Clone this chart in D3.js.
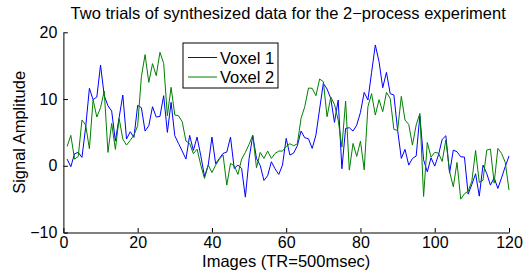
<!DOCTYPE html>
<html>
<head>
<meta charset="utf-8">
<script src="https://cdn.jsdelivr.net/npm/d3@7"></script>
<style>
  body { margin: 0; background: #fff; }
  svg text { font-family: "Liberation Sans", Arial, sans-serif; fill: #000; }
</style>
</head>
<body>
<svg id="chart" width="524" height="276"></svg>
<script>
// ---- data ----
var voxel1 = [1.0, -0.15, 1.8, 2.0, 1.25, 5.8, 11.6, 9.9, 10.3, 15.1,
  10.5, 9.0, 8.2, 3.7, 7.2, 10.6, 4.0, 5.1, 4.25, 9.05,
  8.7, 5.2, 6.0, 8.85, 7.3, 7.4, 10.5, 5.0, 9.5, 4.5,
  3.35, 2.2, 1.0, 4.55, 2.3, 4.3, 1.5, -1.6, 0.1, 4.3,
  0.3, 1.1, 1.85, 2.05, 4.3, -0.4, 0.1, -0.4, -4.7, 1.05,
  4.5, 1.1, 0.05, -2.2, -1.5, 0.6, -0.45, -1.3, 0.1, 4.1,
  1.6, 1.9, 3.0, 5.2, 4.2, 4.05, 2.6, 4.6, 8.5, 12.35,
  11.5, 10.1, 6.5, 9.85, -0.45, 5.6, 5.7, 5.2, 6.1, 8.0,
  11.0, 9.85, 14.0, 18.1, 15.6, 11.7, 14.0, 10.8, 10.6, 5.35,
  1.1, 2.45, 0.1, 1.1, 1.45, 7.5, 0.9, -0.9, 1.2, -0.05,
  1.6, 3.95, 4.5, -1.1, 2.35, 2.1, 1.35, 1.3, -4.25, -2.8,
  -1.2, -4.55, 0.1, -1.15, -2.9, -1.8, -3.4, -1.8, -0.1, 1.45];

var voxel2 = [2.9, 4.55, 1.0, 1.4, 6.85, 6.1, 2.55, 9.9, 7.3, 8.7,
  11.2, 2.0, 6.35, 2.45, 7.1, 4.0, 3.1, 3.8, 4.6, 6.0,
  13.35, 16.65, 12.5, 15.3, 13.5, 17.0, 15.35, 7.5, 11.75, 7.6,
  7.5, 6.6, 3.7, 3.35, 1.8, 2.5, 0.1, -1.9, 0.1, -1.0,
  0.1, 1.0, 1.6, -2.9, 0.35, 0.0, -1.3, 1.0, 2.0, 3.2,
  4.6, -0.3, 2.0, 1.1, 2.2, 1.1, 1.85, 2.2, 2.2, 2.9,
  3.3, 3.0, 3.3, 7.1, 8.85, 11.65, 11.6, 10.5, 13.0, 12.6,
  7.35, 10.3, 9.2, 6.85, 2.8, 9.7, -0.65, 3.35, 1.4, 3.7,
  -0.6, 8.85, 10.8, 7.6, 9.9, 8.1, 11.0, 10.1, 5.45, 5.3,
  10.4, 6.85, 6.2, 3.1, 6.1, 7.85, -4.6, 3.5, 1.3, 2.0,
  1.9, 0.65, 3.85, -0.9, -3.15, 0.5, -5.0, -4.2, -3.8, -2.3,
  2.3, -2.5, -2.15, 2.35, 2.5, -2.6, 2.6, 1.85, 0.5, -3.65];

var images = d3.range(1, voxel1.length + 1);   // image index 1..120
var seriesNames = ["Voxel 1", "Voxel 2"];
var seriesColors = ["#0000ff", "#008000"];
var xTicks = [0, 20, 40, 60, 80, 100, 120];
var yTicks = [-10, 0, 10, 20];

var titleText = "Two trials of synthesized data for the 2\u2212process experiment";
var xLabel = "Images (TR=500msec)";
var yLabel = "Signal Amplitude";

(function () {
  // ---- layout ----
  var svg = d3.select("#chart"),
      pLeft = 63.4, pRight = 509, pTop = 32.3, pBottom = 232.5;

  var x = d3.scaleLinear().domain([0, 120]).range([pLeft, pRight]);
  var y = d3.scaleLinear().domain([-10, 20]).range([pBottom, pTop]);

  // axes (MATLAB style: ticks inside, box off)
  var xAxis = svg.append("g")
      .attr("transform", "translate(0," + pBottom + ")")
      .call(d3.axisBottom(x).tickValues(xTicks).tickSizeInner(-4.5).tickSizeOuter(0).tickPadding(4));
  var yAxis = svg.append("g")
      .attr("transform", "translate(" + pLeft + ",0)")
      .call(d3.axisLeft(y).tickValues(yTicks).tickSizeInner(-4.5).tickSizeOuter(0).tickPadding(6)
        .tickFormat(function(d) { return d < 0 ? "\u2212" + Math.abs(d) : d; }));

  [xAxis, yAxis].forEach(function(g) {
    g.select(".domain").attr("stroke", "#000").attr("stroke-width", 1);
    g.selectAll(".tick line").attr("stroke", "#000");
    g.selectAll(".tick text").style("font-size", "16px").attr("fill", "#000");
  });

  // the lines
  var line = d3.line()
      .x(function(d, i) { return x(images[i]); })
      .y(function(d) { return y(d); });

  svg.selectAll("path.series")
    .data([voxel1, voxel2])
    .enter().append("path")
      .attr("class", "series")
      .attr("fill", "none")
      .attr("stroke", function(d, i) { return seriesColors[i]; })
      .attr("stroke-width", 1)
      .attr("stroke-linejoin", "round")
      .attr("d", line);

  // title and labels
  svg.append("text")
      .attr("x", (pLeft + pRight) / 2 + 2).attr("y", 19)
      .attr("text-anchor", "middle")
      .style("font-size", "16.5px")
      .text(titleText);

  svg.append("text")
      .attr("x", (pLeft + pRight) / 2).attr("y", 267)
      .attr("text-anchor", "middle")
      .style("font-size", "16.5px")
      .text(xLabel);

  svg.append("text")
      .attr("transform", "translate(25," + ((pTop + pBottom) / 2) + ") rotate(-90)")
      .attr("text-anchor", "middle")
      .style("font-size", "16.5px")
      .text(yLabel);

  // legend
  var legend = svg.append("g").attr("transform", "translate(183,43)");
  legend.append("rect")
      .attr("width", 95).attr("height", 45)
      .attr("fill", "#fff").attr("stroke", "#000").attr("stroke-width", 1);
  seriesNames.forEach(function(name, i) {
    var ly = 14.5 + i * 19.5;
    legend.append("line")
        .attr("x1", 5).attr("x2", 34).attr("y1", ly).attr("y2", ly)
        .attr("stroke", seriesColors[i]).attr("stroke-width", 1);
    legend.append("text")
        .attr("x", 37).attr("y", ly + 6)
        .style("font-size", "16.5px")
        .text(name);
  });
})();
</script>
</body>
</html>
